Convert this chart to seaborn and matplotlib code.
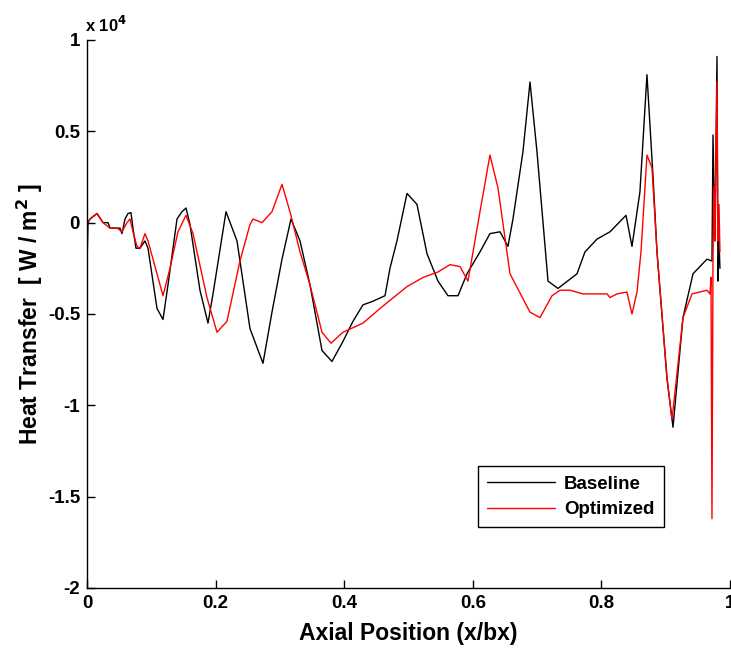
import numpy as np
import pandas as pd
import matplotlib
matplotlib.use("Agg")
import matplotlib.pyplot as plt
import seaborn as sns
from matplotlib.ticker import FuncFormatter

# Baseline blade: axial position (x/bx) and heat transfer (W/m^2)
base_x = [0.0, 0.0016, 0.0047, 0.0156, 0.0249, 0.0327, 0.0358, 0.0404, 0.0513, 0.0544,
          0.0591, 0.0638, 0.0684, 0.0715, 0.0762, 0.0824, 0.0902, 0.0949, 0.1089, 0.1182,
          0.1260, 0.1400, 0.1477, 0.1540, 0.1602, 0.1757, 0.1882, 0.1960, 0.2162, 0.2333,
          0.2535, 0.2737, 0.2877, 0.3033, 0.3173, 0.3313, 0.3468, 0.3655, 0.3810, 0.3981,
          0.4137, 0.4292, 0.4448, 0.4635, 0.4712, 0.4821, 0.4977, 0.5132, 0.5288, 0.5459,
          0.5614, 0.5770, 0.5910, 0.6112, 0.6267, 0.6423, 0.6547, 0.6625, 0.6781, 0.6890,
          0.6998, 0.7170, 0.7325, 0.7621, 0.7745, 0.7932, 0.8134, 0.8383, 0.8476, 0.8600,
          0.8709, 0.8802, 0.8865, 0.9020, 0.9114, 0.9269, 0.9425, 0.9642, 0.9720, 0.9736,
          0.9767, 0.9798, 0.9813, 0.9829, 0.9844]
base_q = [-2300, 0, 200, 500, 0, 0, -300, -300, -300, -600,
          200, 500, 550, -300, -1400, -1400, -1000, -1400, -4700, -5300,
          -3400, 200, 600, 800, -100, -3700, -5500, -3900, 600, -1000,
          -5800, -7700, -4900, -2000, 200, -1000, -3400, -7000, -7600, -6500,
          -5400, -4500, -4300, -4000, -2500, -1000, 1600, 1000, -1700, -3200,
          -4000, -4000, -2800, -1600, -600, -500, -1300, 200, 3900, 7700,
          3900, -3200, -3600, -2800, -1600, -900, -500, 400, -1300, 1700,
          8100, 2600, -1600, -8500, -11200, -5200, -2800, -2000, -2100, 4800,
          -1000, 9100, -3200, -1000, -2500]

# Optimized blade
opt_x = [0.0, 0.0078, 0.0156, 0.0249, 0.0358, 0.0467, 0.0544, 0.0622, 0.0669, 0.0715,
         0.0778, 0.0824, 0.0902, 0.0949, 0.1182, 0.1291, 0.1415, 0.1540, 0.1649, 0.1866,
         0.2022, 0.2177, 0.2379, 0.2535, 0.2582, 0.2722, 0.2877, 0.3033, 0.3157, 0.3313,
         0.3468, 0.3655, 0.3795, 0.3981, 0.4292, 0.4557, 0.4837, 0.4977, 0.5226, 0.5459,
         0.5645, 0.5801, 0.5925, 0.6112, 0.6267, 0.6392, 0.6579, 0.6890, 0.7045, 0.7232,
         0.7356, 0.7512, 0.7714, 0.8087, 0.8134, 0.8243, 0.8398, 0.8476, 0.8554, 0.8616,
         0.8709, 0.8787, 0.8865, 0.9020, 0.9098, 0.9269, 0.9409, 0.9642, 0.9689, 0.9705,
         0.9720, 0.9736, 0.9751, 0.9767, 0.9782, 0.9798, 0.9813, 0.9829, 0.9844]
opt_q = [0, 300, 500, 0, -300, -300, -500, 0, 200, -500,
         -1300, -1400, -600, -1000, -4000, -2500, -500, 400, -600, -4100,
         -6000, -5400, -2100, -100, 200, 0, 600, 2100, 600, -1600,
         -3400, -6000, -6600, -6000, -5500, -4700, -3900, -3500, -3000, -2700,
         -2300, -2400, -3200, 600, 3700, 1900, -2800, -4900, -5200, -4000,
         -3700, -3700, -3900, -3900, -4100, -3900, -3800, -5000, -3800, -1600,
         3700, 3000, -1600, -8500, -10800, -5200, -3900, -3700, -3900, -3000,
         -16200, -2000, 2000, -1000, 4000, 7700, -1000, 1000, -1600]

yticks = [-20000, -15000, -10000, -5000, 0, 5000, 10000]
xticks = [0, 0.2, 0.4, 0.6, 0.8, 1.0]

sns.set_style("ticks")
plt.rcParams["font.family"] = ["Liberation Sans", "DejaVu Sans"]
plt.rcParams["font.weight"] = "bold"
plt.rcParams["text.color"] = "black"
plt.rcParams["axes.labelcolor"] = "black"

fig = plt.figure(figsize=(7.31, 6.48), dpi=100)
ax = fig.add_axes([0.119, 0.0926, 0.8796, 0.8457])

df_b = pd.DataFrame({"x": base_x, "q": base_q})
df_o = pd.DataFrame({"x": opt_x, "q": opt_q})
sns.lineplot(data=df_b, x="x", y="q", color="black", linewidth=1.0,
             estimator=None, sort=False, label="Baseline", ax=ax)
sns.lineplot(data=df_o, x="x", y="q", color="red", linewidth=1.0,
             estimator=None, sort=False, label="Optimized", ax=ax)

ax.set_xlim(0, 1)
ax.set_ylim(-20000, 10000)
ax.set_xticks(xticks)
ax.set_yticks(yticks)
ax.xaxis.set_major_formatter(FuncFormatter(lambda v, p: "%g" % v))
ax.yaxis.set_major_formatter(FuncFormatter(lambda v, p: "%g" % (v / 1e4)))
ax.tick_params(direction="in", length=6, width=1, labelsize=13.5, colors="black", pad=5)
for lab in ax.get_xticklabels() + ax.get_yticklabels():
    lab.set_fontweight("bold")
sns.despine(ax=ax)
for s in ["left", "bottom"]:
    ax.spines[s].set_linewidth(1)
    ax.spines[s].set_color("black")

ax.set_xlabel("Axial Position (x/bx)", fontsize=16.5, fontweight="bold", labelpad=7)
ax.set_ylabel("Heat Transfer  [ W / m$^\\mathbf{2}$ ]", fontsize=16.5, fontweight="bold", labelpad=2)
fig.text(0.116, 0.962, "x 10$^\\mathbf{4}$", fontsize=12, fontweight="bold", ha="left", va="center")

leg = ax.legend(loc="upper left", bbox_to_anchor=(0.608, 0.2226), fontsize=13.5, frameon=True,
                fancybox=False, edgecolor="black", framealpha=1, handlelength=3.6,
                handletextpad=0.5, borderpad=0.5, labelspacing=0.45, borderaxespad=0)
leg.get_frame().set_linewidth(1)
for t in leg.get_texts():
    t.set_fontweight("bold")

fig.savefig("out.png", dpi=100)
